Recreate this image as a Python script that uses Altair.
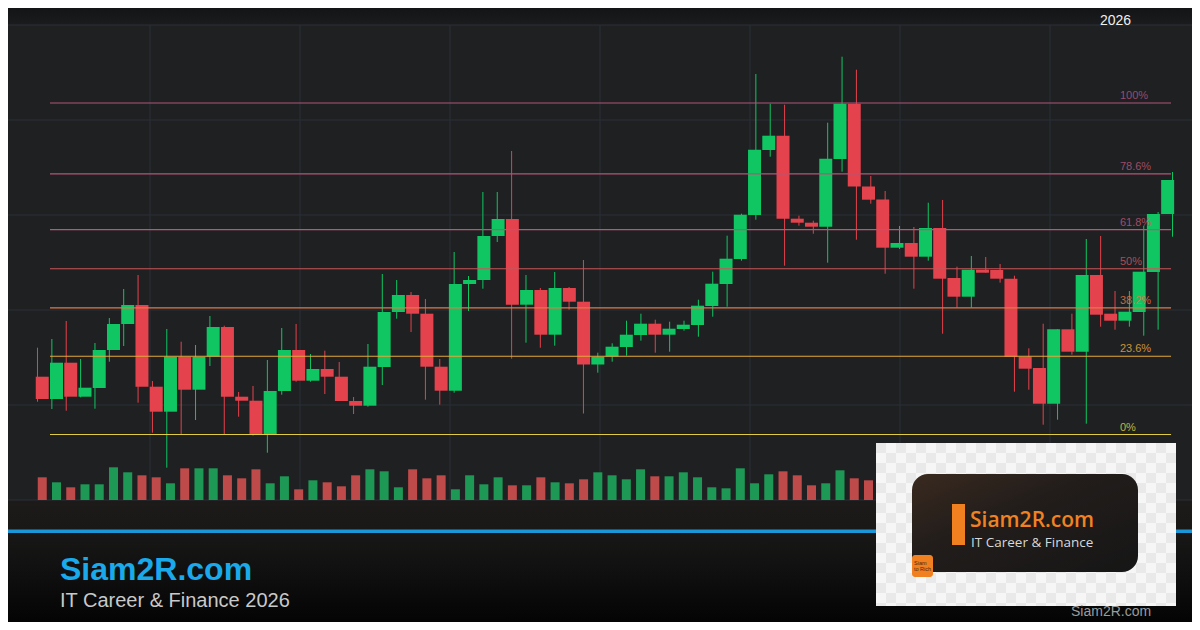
import altair as alt
import pandas as pd

# ---------------- data ----------------
OPEN = [123.3, 101.0, 137.3, 103.3, 112.0, 150.0, 176.0, 195.0, 113.3, 88.3,
        143.3, 110.3, 143.3, 173.0, 103.3, 99.3, 66.0, 109.0, 150.0, 119.3,
        131.0, 123.3, 99.0, 94.3, 133.0, 188.0, 205.0, 186.3, 133.3, 109.3,
        216.0, 220.0, 264.0, 281.0, 195.3, 210.0, 165.3, 212.0, 198.3, 135.5,
        143.5, 153.0, 165.0, 176.3, 165.3, 171.0, 175.0, 194.0, 216.0, 241.0,
        285.0, 350.0, 364.3, 281.3, 277.3, 273.3, 341.0, 396.3, 313.5, 300.5,
        252.3, 257.0, 243.3, 272.0, 222.0, 203.3, 230.3, 230.0, 221.3, 143.3,
        132.0, 96.3, 170.7, 148.3, 225.0, 186.3, 179.3, 188.0, 228.0, 286.0]
HIGH = [152.3, 161.0, 179.0, 141.0, 157.0, 182.0, 211.0, 225.0, 119.0, 171.0,
        158.3, 155.0, 184.0, 174.3, 108.0, 114.0, 140.0, 172.0, 176.0, 146.0,
        149.3, 138.0, 103.0, 156.0, 226.0, 220.0, 208.0, 201.0, 141.0, 248.0,
        224.0, 308.0, 308.0, 349.0, 225.0, 212.0, 228.0, 213.0, 240.0, 147.3,
        156.7, 179.3, 186.3, 180.3, 178.3, 179.3, 200.3, 228.3, 264.3, 286.3,
        426.0, 396.3, 395.3, 284.3, 279.3, 377.3, 443.3, 430.3, 324.0, 309.0,
        274.0, 273.0, 297.3, 300.0, 233.3, 244.0, 243.0, 236.0, 224.3, 151.7,
        176.3, 170.7, 186.3, 261.0, 264.0, 209.0, 209.0, 274.0, 288.0, 328.0]
LOW = [98.3, 91.0, 89.3, 102.7, 91.3, 138.3, 154.0, 97.3, 67.3, 32.3,
       66.0, 80.0, 134.0, 66.0, 83.3, 64.3, 47.3, 105.3, 118.3, 118.3,
       106.0, 99.0, 86.0, 93.3, 115.0, 181.3, 168.0, 100.3, 95.3, 107.3,
       189.0, 211.3, 258.0, 141.3, 157.3, 152.3, 154.3, 190.3, 86.5, 127.3,
       138.3, 144.3, 159.3, 147.3, 148.3, 169.3, 163.3, 183.3, 193.3, 239.3,
       280.3, 343.3, 234.3, 274.3, 266.3, 237.3, 328.3, 260.3, 296.3, 226.3,
       251.0, 211.3, 239.3, 166.3, 192.3, 192.3, 227.3, 217.3, 108.3, 110.3,
       75.3, 80.3, 145.3, 76.3, 173.3, 170.3, 173.3, 164.3, 170.3, 263.3]
CLOSE = [101.0, 137.3, 103.3, 112.3, 150.0, 176.0, 195.0, 113.3, 88.3, 143.3,
         110.3, 143.3, 173.0, 103.3, 99.3, 66.0, 109.0, 150.0, 119.3, 131.0,
         123.3, 99.0, 94.3, 133.3, 188.0, 205.0, 186.3, 133.3, 109.3, 216.0,
         220.0, 264.0, 281.0, 195.3, 210.0, 165.3, 212.0, 198.3, 135.5, 143.3,
         153.3, 165.3, 176.3, 165.3, 171.3, 175.3, 194.3, 216.3, 241.3, 285.3,
         350.3, 364.3, 281.3, 277.3, 273.3, 341.3, 396.3, 313.5, 300.3, 252.3,
         257.0, 243.3, 272.0, 221.3, 203.3, 230.3, 227.3, 221.3, 143.3, 131.3,
         96.3, 170.7, 148.3, 225.0, 185.3, 179.3, 188.3, 228.3, 286.0, 320.0]
VOLUME = [2.27, 1.77, 1.27, 1.57, 1.57, 3.27, 2.77, 2.47, 2.27, 1.67,
          3.17, 3.17, 3.17, 2.47, 2.17, 3.07, 1.67, 2.37, 1.07, 1.97,
          1.77, 1.37, 2.47, 3.07, 2.87, 1.27, 3.07, 2.17, 2.47, 1.07,
          2.47, 1.57, 2.27, 1.47, 1.47, 2.27, 1.77, 1.67, 2.07, 2.77,
          2.47, 2.07, 3.07, 2.37, 2.37, 2.77, 2.27, 1.27, 1.17, 3.17,
          1.67, 2.57, 2.87, 2.47, 1.47, 1.67, 2.97, 2.17, 1.97, 2.40,
          1.80, 2.60, 2.10, 2.90, 1.90, 2.20, 1.60, 2.00, 3.10, 2.30,
          2.80, 3.20, 1.90, 2.70, 2.50, 1.50, 1.80, 2.60, 2.90, 3.00]

FIB_LEVELS = [0.0, 23.6, 38.2, 50.0, 61.8, 78.6, 100.0]
FIB_LABELS = ["0%", "23.6%", "38.2%", "50%", "61.8%", "78.6%", "100%"]
SWING_LOW = 65.5
SWING_HIGH = 397.0
GRID_PRICES = [0, 95, 190, 285, 380, 475]

# ---------------- styles / layout ----------------
OFF = 8                     # page margin of the html page
W, H = 1184, 614            # canvas size (page = 1200x630 with margins)
GREEN, RED = "#0fc663", "#e4424c"
VGREEN, VRED = "#1e9955", "#be4a4a"
FIB_COLORS = ["#e0cc44", "#e6a83a", "#e07848", "#c8555a", "#ba5575", "#b45476", "#b05478"]
GRID = "#2b2e37"
BG = "#1f2022"
FONT = "Liberation Sans"

X_SCALE = alt.Scale(domain=[-1.0533, 81.358], nice=False, zero=False)
P_SCALE = alt.Scale(domain=[-122, 492], nice=False, zero=False)
V_SCALE = alt.Scale(domain=[-12.2, 49.2], nice=False, zero=False)
FIB_FROM_T, FIB_TO_T, FIB_LABEL_T = 1.87, 79.9, 76.34

candles = pd.DataFrame({
    "t": list(range(1, len(OPEN) + 1)),
    "open": OPEN, "high": HIGH, "low": LOW, "close": CLOSE, "volume": VOLUME,
})
fib = pd.DataFrame({"pct": FIB_LEVELS, "label": FIB_LABELS})
fib["price"] = SWING_LOW + (SWING_HIGH - SWING_LOW) * fib["pct"] / 100.0
fib["t0"] = FIB_FROM_T
fib["t1"] = FIB_TO_T
fib["tl"] = FIB_LABEL_T
grid_h = pd.DataFrame({"p": GRID_PRICES})
grid_v = pd.DataFrame({"gx": [150 * k - OFF for k in range(1, 8)]})
one = pd.DataFrame({"k": [0]})

up = "datum.close >= datum.open"
X = alt.X("t:Q", scale=X_SCALE, axis=None)


def cx(v):
    return max(0, min(W, v - OFF))


def cy(v):
    return max(0, min(H, v - OFF))


def rect(x, x2, y, y2, **kw):
    return alt.Chart(one).mark_rect(**kw).encode(
        x=alt.value(cx(x)), x2=alt.value(cx(x2)),
        y=alt.value(cy(y)), y2=alt.value(cy(y2)))


def text(s, x, y, **kw):
    return alt.Chart(one).mark_text(text=s, **kw).encode(
        x=alt.value(x - OFF), y=alt.value(y - OFF))


def vgrad(stops):
    return alt.Gradient(gradient="linear", x1=0, x2=0, y1=0, y2=1,
                        stops=[alt.GradientStop(color=c, offset=o) for o, c in stops])


top_strip = rect(0, 1200, 0, 25, color=vgrad([(0, "#131416"), (1, "#1b1c1e")]))
footer = rect(0, 1200, 500, 630, color=vgrad([(0, "#1c1b1a"), (0.25, "#191817"),
                                               (0.55, "#111111"), (1, "#040404")]))

hgrid = alt.Chart(grid_h).mark_rule(color=GRID, strokeWidth=1).encode(
    y=alt.Y("p:Q", scale=P_SCALE, axis=None),
    x=alt.value(0), x2=alt.value(W))
vgrid = alt.Chart(grid_v).mark_rule(color=GRID, strokeWidth=1).encode(
    x=alt.X("gx:Q", scale=None, axis=None),
    y=alt.value(25 - OFF), y2=alt.value(500 - OFF))

volume = alt.Chart(candles).mark_bar(size=9).encode(
    x=X,
    y=alt.Y("volume:Q", scale=V_SCALE, axis=None),
    y2=alt.datum(0),
    color=alt.condition(up, alt.value(VGREEN), alt.value(VRED)))

wicks = alt.Chart(candles).mark_rule(strokeWidth=1).encode(
    x=X,
    y=alt.Y("low:Q", scale=P_SCALE, axis=None),
    y2="high:Q",
    color=alt.condition(up, alt.value(GREEN), alt.value(RED)))

bodies = alt.Chart(candles).mark_bar(size=13).encode(
    x=X,
    y=alt.Y("open:Q", scale=P_SCALE, axis=None),
    y2="close:Q",
    color=alt.condition(up, alt.value(GREEN), alt.value(RED)))

fib_color = alt.Color("label:N", scale=alt.Scale(domain=FIB_LABELS, range=FIB_COLORS), legend=None)
fib_lines = alt.Chart(fib).mark_rule(strokeWidth=1.2, opacity=1).encode(
    x=alt.X("t0:Q", scale=X_SCALE, axis=None), x2="t1:Q",
    y=alt.Y("price:Q", scale=P_SCALE, axis=None),
    color=fib_color)
fib_text = alt.Chart(fib).mark_text(align="left", baseline="alphabetic", dy=-4,
                                    fontSize=11, font=FONT, opacity=0.85).encode(
    x=alt.X("tl:Q", scale=X_SCALE, axis=None),
    y=alt.Y("price:Q", scale=P_SCALE, axis=None),
    text="label:N", color=fib_color)

blue_line = rect(0, 1200, 529.5, 533, color="#1b96d6")
brand = text("Siam2R.com", 60, 580, align="left", baseline="alphabetic", font=FONT,
             fontSize=32, fontWeight="bold", color="#1aa9ea")
tagline = text("IT Career & Finance 2026", 60, 607, align="left", baseline="alphabetic",
               font=FONT, fontSize=20, color="#c9c9c9")
year = text("2026", 1100, 25, align="left", baseline="alphabetic", font=FONT,
            fontSize=14, color="#f0f0f0")

# logo with a transparency-style checker background
LOGO_X, LOGO_Y, CELL, NCOL, NROW = 876 - OFF, 443 - OFF, 10, 30, 17
logo_bg = rect(876, 1176, 443, 606, color="#f6f6f6")
checker = alt.Chart(alt.sequence(0, NCOL * NROW, as_="i")).transform_calculate(
    col=f"datum.i % {NCOL}", row=f"floor(datum.i / {NCOL})"
).transform_filter(
    "(datum.col + datum.row) % 2 == 0"
).transform_calculate(
    px=f"{LOGO_X} + datum.col * {CELL}", px2=f"min({LOGO_X} + datum.col * {CELL} + {CELL}, {1176 - OFF})",
    py=f"{LOGO_Y} + datum.row * {CELL}", py2=f"min({LOGO_Y} + datum.row * {CELL} + {CELL}, {606 - OFF})"
).mark_rect(color="#e9e9e9").encode(
    x=alt.X("px:Q", scale=None, axis=None), x2="px2:Q",
    y=alt.Y("py:Q", scale=None, axis=None), y2="py2:Q")
logo_card = rect(912, 1138, 474, 572, cornerRadius=16,
                 color=alt.Gradient(gradient="linear", x1=0, y1=0, x2=1, y2=1,
                                    stops=[alt.GradientStop(color="#3a2a1f", offset=0),
                                           alt.GradientStop(color="#221d1b", offset=0.4),
                                           alt.GradientStop(color="#161616", offset=1)]))
logo_bar = rect(952, 965, 504, 545, color="#f08020")
logo_name = text("Siam2R.com", 970, 527, align="left", baseline="alphabetic", font="Open Sans",
                 fontSize=21, fontWeight=600, color="#f08222")
logo_tag = text("IT Career & Finance", 971, 547, align="left", baseline="alphabetic",
                font="Open Sans", fontSize=13.5, color="#d8d8d8")
badge = rect(912, 933, 555, 577, cornerRadius=3, color="#f08020")
badge_t1 = text("Siam", 914, 565, align="left", baseline="alphabetic", font=FONT,
                fontSize=5.5, color="#4a2a10")
badge_t2 = text("to Rich", 914, 571, align="left", baseline="alphabetic", font=FONT,
                fontSize=5.5, color="#4a2a10")
small_brand = text("Siam2R.com", 1071, 616, align="left", baseline="alphabetic", font=FONT,
                   fontSize=14, color="#9b9b9b")

chart = alt.layer(
    top_strip, footer, hgrid, vgrid, volume, wicks, bodies, fib_lines, fib_text,
    blue_line, brand, tagline, logo_bg, checker, logo_card, logo_bar, logo_name, logo_tag,
    badge, badge_t1, badge_t2, small_brand, year,
).resolve_scale(
    x="independent", y="independent", color="independent"
).properties(
    width=W, height=H, padding=0,
    autosize=alt.AutoSizeParams(type="none"),
    background=BG,
).configure_view(stroke=None)

chart.save("out.html", embed_options={"renderer": "svg", "actions": False})
